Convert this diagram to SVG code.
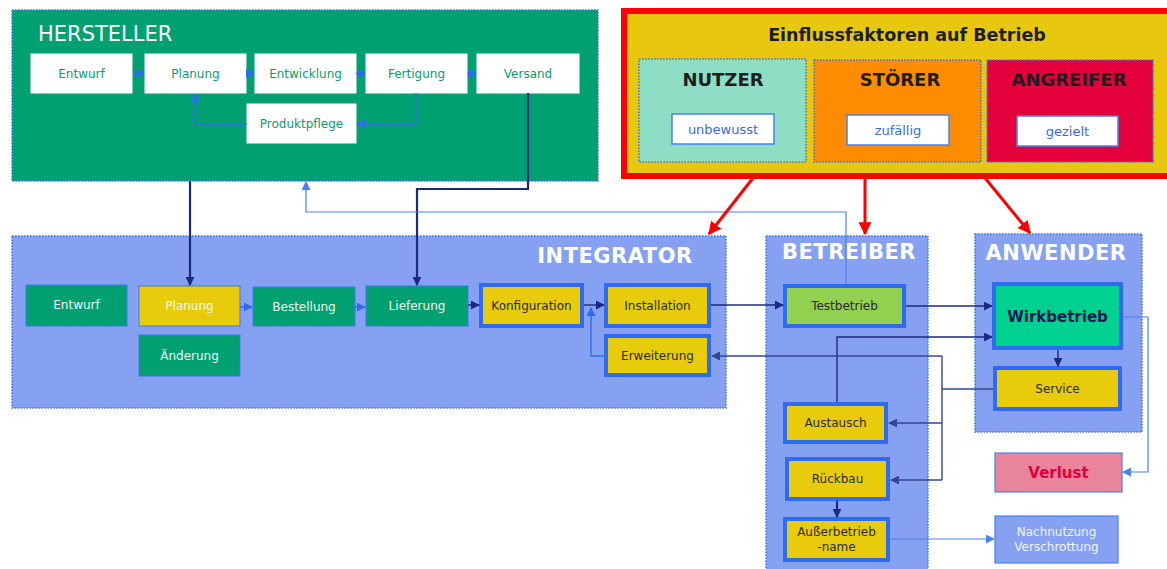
<svg xmlns="http://www.w3.org/2000/svg" width="1167" height="569" viewBox="0 0 1167 569">
<style>
text{font-family:"DejaVu Sans",Verdana,sans-serif;text-anchor:middle}
.grp{stroke:#3D78F0;stroke-width:1.6;stroke-dasharray:1.6 1.4}
.wbox{fill:#fff;stroke:#fff}
.wt{font-size:12px;fill:#0E9A6C}
.gbox{fill:#00A070;stroke:#3D78F0;stroke-width:1}
.ybox{fill:#E8CC0C;stroke:#3D78F0;stroke-width:1}
.tbox{stroke:#2F6BF0;stroke-width:4}
.lt{font-size:12px;fill:#F2F6F2}
.dt{font-size:12px;fill:#2A2A2A}
.big{font-size:21px;font-weight:bold;fill:#fff;letter-spacing:0.5px}
.inf{font-size:18px;font-weight:bold;fill:#1E1E1E}
.bt{fill:#fff;stroke:#4A80F0;stroke-width:1.5}
.btt{font-size:13px;fill:#3A6AE0}
.navy{fill:none;stroke:#1A2A80;stroke-width:1.4}
.navy2{fill:none;stroke:#1A2A80;stroke-width:2.2}
.mid{fill:none;stroke:#34468F;stroke-width:1.4}
.blue{fill:none;stroke:#2F6BF0;stroke-width:1.4}
.lblue{fill:none;stroke:#4A80F0;stroke-width:1.2}
.red{fill:none;stroke:#FF0000;stroke-width:3}
</style>
<defs>
<marker id="aN" viewBox="0 0 10 10" refX="9" refY="5" markerWidth="9" markerHeight="9" markerUnits="userSpaceOnUse" orient="auto"><path d="M0,0L10,5L0,10z" fill="#1A2A80"/></marker>
<marker id="aM" viewBox="0 0 10 10" refX="9" refY="5" markerWidth="9" markerHeight="9" markerUnits="userSpaceOnUse" orient="auto"><path d="M0,0L10,5L0,10z" fill="#34468F"/></marker>
<marker id="aB" viewBox="0 0 10 10" refX="9" refY="5" markerWidth="9" markerHeight="9" markerUnits="userSpaceOnUse" orient="auto"><path d="M0,0L10,5L0,10z" fill="#2F6BF0"/></marker>
<marker id="aL" viewBox="0 0 10 10" refX="9" refY="5" markerWidth="9" markerHeight="9" markerUnits="userSpaceOnUse" orient="auto"><path d="M0,0L10,5L0,10z" fill="#4A80F0"/></marker>
<marker id="aR" viewBox="0 0 10 10" refX="9" refY="5" markerWidth="13" markerHeight="13" markerUnits="userSpaceOnUse" orient="auto"><path d="M0,0L10,5L0,10z" fill="#FF0000"/></marker>
</defs>
<rect width="1167" height="569" fill="#fff"/>

<g id="hersteller">
<rect class="grp" x="12" y="10" width="586" height="171" fill="#00A070"/>
<text x="38" y="41" style="text-anchor:start;font-size:21px;fill:#fff">HERSTELLER</text>
</g>
<g id="h-entwurf"><rect class="wbox" x="31" y="54" width="101" height="39"/><text class="wt" x="81.5" y="78">Entwurf</text></g>
<g id="h-planung"><rect class="wbox" x="145" y="54" width="101" height="39"/><text class="wt" x="195.5" y="78">Planung</text></g>
<g id="h-entwicklung"><rect class="wbox" x="255" y="54" width="101" height="39"/><text class="wt" x="305.5" y="78">Entwicklung</text></g>
<g id="h-fertigung"><rect class="wbox" x="366" y="54" width="101" height="39"/><text class="wt" x="416.5" y="78">Fertigung</text></g>
<g id="h-versand"><rect class="wbox" x="477" y="54" width="102" height="39"/><text class="wt" x="528" y="78">Versand</text></g>
<g id="h-produktpflege"><rect class="wbox" x="247" y="104" width="109" height="39"/><text class="wt" x="301.5" y="128">Produktpflege</text></g>

<g id="einfluss">
<rect x="624" y="11" width="560" height="165" fill="#E8C80E" stroke="#FF0000" stroke-width="6"/>
<text x="907" y="41" style="font-size:17.5px;font-weight:bold;fill:#1E1E1E">Einflussfaktoren auf Betrieb</text>
</g>
<g id="nutzer"><rect class="grp" x="639" y="59" width="167" height="103" fill="#8EDDC5"/><text class="inf" x="723" y="86">NUTZER</text>
<rect class="bt" x="672" y="114" width="102" height="30"/><text class="btt" x="723" y="134">unbewusst</text></g>
<g id="stoerer"><rect class="grp" x="814" y="60" width="167" height="102" fill="#FF8C00"/><text class="inf" x="900" y="86">STÖRER</text>
<rect class="bt" x="847" y="115" width="102" height="30"/><text class="btt" x="898" y="135">zufällig</text></g>
<g id="angreifer"><rect class="grp" x="987" y="60" width="166" height="102" fill="#E4003A"/><text class="inf" x="1069" y="86">ANGREIFER</text>
<rect class="bt" x="1017" y="116" width="101" height="30"/><text class="btt" x="1067.5" y="136">gezielt</text></g>

<g id="integrator">
<rect class="grp" x="12" y="236" width="714" height="172" fill="#86A1F2"/>
<text class="big" x="615" y="263">INTEGRATOR</text>
</g>
<g id="i-entwurf"><rect class="gbox" x="26" y="285" width="101" height="41"/><text class="lt" x="76.5" y="309">Entwurf</text></g>
<g id="i-planung"><rect class="ybox" x="139" y="286" width="101" height="40"/><text class="lt" x="189.5" y="310">Planung</text></g>
<g id="i-aenderung"><rect class="gbox" x="139" y="335" width="101" height="41"/><text class="lt" x="189.5" y="360">Änderung</text></g>
<g id="i-bestellung"><rect class="gbox" x="253" y="287" width="102" height="39"/><text class="lt" x="304" y="311">Bestellung</text></g>
<g id="i-lieferung"><rect class="gbox" x="366" y="286" width="102" height="40"/><text class="lt" x="417" y="310">Lieferung</text></g>
<g id="i-konfiguration"><rect class="ybox tbox" x="481" y="285" width="101" height="41"/><text class="dt" x="531.5" y="310">Konfiguration</text></g>
<g id="i-installation"><rect class="ybox tbox" x="606" y="285" width="103" height="41"/><text class="dt" x="657.5" y="310">Installation</text></g>
<g id="i-erweiterung"><rect class="ybox tbox" x="606" y="336" width="103" height="39"/><text class="dt" x="657.5" y="360">Erweiterung</text></g>

<g id="betreiber">
<rect class="grp" x="766" y="236" width="162" height="340" fill="#86A1F2"/>
<text class="big" x="849" y="259">BETREIBER</text>
</g>
<g id="b-testbetrieb"><rect x="785" y="286" width="119" height="40" fill="#92D050" class="tbox"/><text class="dt" x="844.5" y="310">Testbetrieb</text></g>
<g id="b-austausch"><rect class="ybox tbox" x="785" y="404" width="101" height="38"/><text class="dt" x="835.5" y="427">Austausch</text></g>
<g id="b-rueckbau"><rect class="ybox tbox" x="787" y="459" width="101" height="40"/><text class="dt" x="837.5" y="483">Rückbau</text></g>
<g id="b-ausserbetrieb"><rect class="ybox tbox" x="785" y="519" width="103" height="41"/><text class="dt" x="836.5" y="536">Außerbetrieb</text><text class="dt" x="836.5" y="551">-name</text></g>

<g id="anwender">
<rect class="grp" x="975" y="234" width="167" height="198" fill="#86A1F2"/>
<text class="big" x="1056" y="260">ANWENDER</text>
</g>
<g id="a-wirkbetrieb"><rect x="994" y="284" width="127" height="64" fill="#00D090" class="tbox"/><text x="1057.5" y="322" style="font-size:15px;font-weight:bold;fill:#0A1850">Wirkbetrieb</text></g>
<g id="a-service"><rect class="ybox tbox" x="995" y="368" width="125" height="41"/><text class="dt" x="1057.5" y="393">Service</text></g>

<g id="verlust"><rect x="995" y="453" width="127" height="39" fill="#E8849C" stroke="#4A80F0" stroke-width="1.2"/><text x="1058.5" y="478" style="font-size:15px;font-weight:bold;fill:#E0003A">Verlust</text></g>
<g id="nachnutzung"><rect x="995" y="516" width="123" height="47" fill="#86A1F2" stroke="#4A80F0" stroke-width="1.2"/><text x="1056.5" y="536" style="font-size:12px;fill:#F2F4FF">Nachnutzung</text><text x="1056.5" y="551" style="font-size:12px;fill:#F2F4FF">Verschrottung</text></g>

<g id="connectors">
<path class="blue" d="M133 73.5H144" marker-end="url(#aB)"/>
<path class="blue" d="M246 73.5H254" marker-end="url(#aB)"/>
<path class="blue" d="M356 73.5H365" marker-end="url(#aB)"/>
<path class="blue" d="M467 73.5H476" marker-end="url(#aB)"/>
<path class="blue" d="M416 93V124H357" marker-end="url(#aB)"/>
<path class="blue" d="M247 124H195V94" marker-end="url(#aB)"/>
<path class="navy2" d="M190 181V285" marker-end="url(#aN)"/>
<path class="navy2" d="M528 93V189H417V285" marker-end="url(#aN)"/>
<path class="lblue" d="M846 284V212H306V182" marker-end="url(#aL)"/>
<path class="red" d="M753 178L709 234" marker-end="url(#aR)"/>
<path class="red" d="M865 178V234" marker-end="url(#aR)"/>
<path class="red" d="M985 178L1030 233" marker-end="url(#aR)"/>
<path class="blue" d="M240 307H252" marker-end="url(#aB)"/>
<path class="blue" d="M355 307H365" marker-end="url(#aB)"/>
<path class="navy" d="M468 305H479" marker-end="url(#aN)"/>
<path class="navy" d="M584 305H604" marker-end="url(#aN)"/>
<path class="blue" d="M604 356H591V308" marker-end="url(#aB)"/>
<path class="navy" d="M711 305H783" marker-end="url(#aN)"/>
<path class="navy" d="M906 306H992" marker-end="url(#aN)"/>
<path class="navy" d="M837 402V337H992" marker-end="url(#aN)"/>
<path class="mid" d="M993 389H942"/>
<path class="mid" d="M942 356V480"/>
<path class="mid" d="M942 356H712" marker-end="url(#aM)"/>
<path class="mid" d="M942 423H889" marker-end="url(#aM)"/>
<path class="mid" d="M942 480H891" marker-end="url(#aM)"/>
<path class="navy" d="M1058 350V366" marker-end="url(#aN)"/>
<path class="lblue" d="M1123 317H1148V472H1123" marker-end="url(#aL)"/>
<path class="navy2" d="M837 501V517" marker-end="url(#aN)"/>
<path class="lblue" d="M890 539H994" marker-end="url(#aL)"/>
</g>
</svg>
